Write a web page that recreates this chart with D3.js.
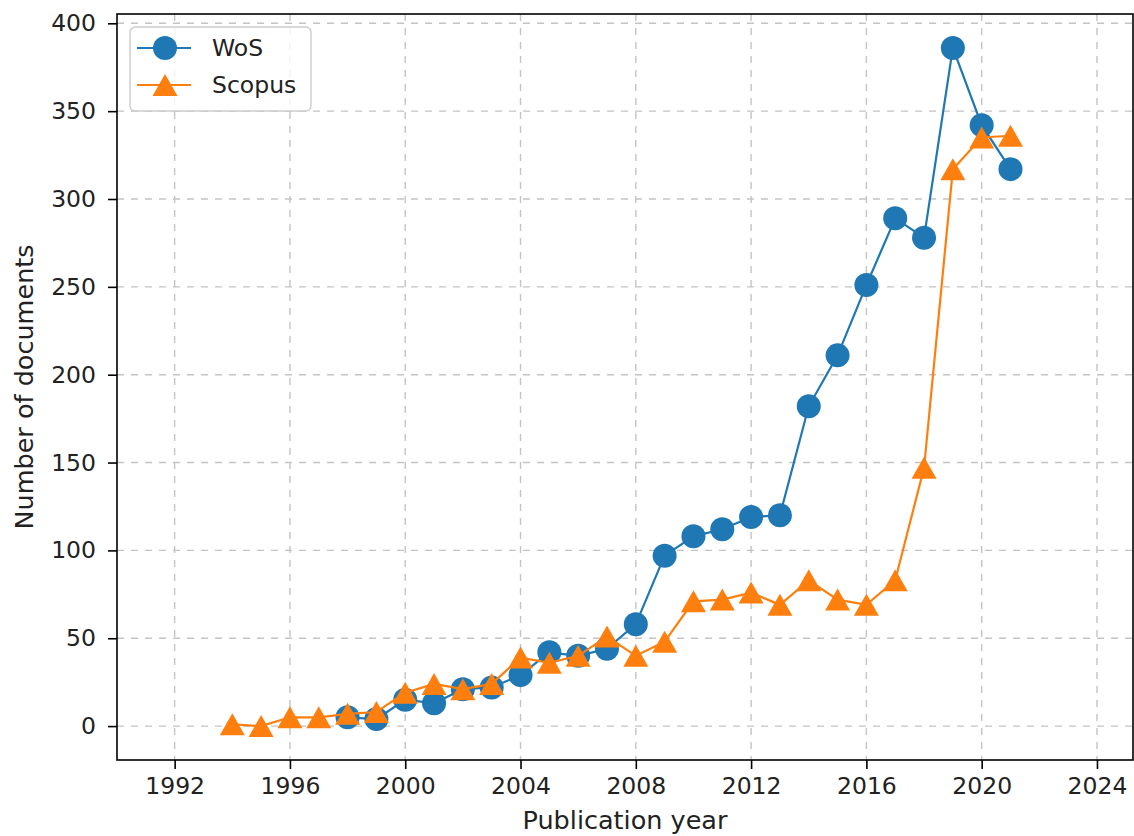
<!DOCTYPE html>
<html>
<head>
<meta charset="utf-8">
<script src="https://cdn.jsdelivr.net/npm/d3@7"></script>
<style>
  html, body { margin: 0; padding: 0; background: #fff; }
  svg { display: block; }
  text { font-family: "DejaVu Sans", sans-serif; fill: #222; }
</style>
</head>
<body>
<svg id="chart" width="1134" height="836"></svg>
<script>
const wosYears   = [1998,1999,2000,2001,2002,2003,2004,2005,2006,2007,2008,2009,2010,2011,2012,2013,2014,2015,2016,2017,2018,2019,2020,2021];
const wosValues  = [5,4,15,13,21,22,29,42,40,44,58,97,108,112,119,120,182,211,251,289,278,386,342,317];
const scopusYears  = [1994,1995,1996,1997,1998,1999,2000,2001,2002,2003,2004,2005,2006,2007,2008,2009,2010,2011,2012,2013,2014,2015,2016,2017,2018,2019,2020,2021];
const scopusValues = [1,0,5,5,7,8,19,24,21,24,39,36,40,51,40,48,71,72,76,69,83,72,69,83,147,317,335,336];
const xTicks = [1992,1996,2000,2004,2008,2012,2016,2020,2024];
const yTicks = [0,50,100,150,200,250,300,350,400];

const svg = d3.select("#chart");
const L = 117, R = 1133, T = 14, B = 760;
const x = d3.scaleLinear().domain([1990, 2025.25]).range([L, R]);
const y = d3.scaleLinear().domain([-19.3, 405.3]).range([B, T]);
const tickFont = 23.5, labelFont = 25.5;

// grid
const grid = svg.append("g");
grid.selectAll(".gx").data(xTicks).join("line")
  .attr("x1", d => x(d)).attr("x2", d => x(d)).attr("y1", T).attr("y2", B)
  .attr("stroke", "#c4c4c4").attr("stroke-width", 1.4).attr("stroke-dasharray", "7,7");
grid.selectAll(".gy").data(yTicks).join("line")
  .attr("y1", d => y(d)).attr("y2", d => y(d)).attr("x1", L).attr("x2", R)
  .attr("stroke", "#c4c4c4").attr("stroke-width", 1.4).attr("stroke-dasharray", "7,7");

// axes
const xAxis = d3.axisBottom(x).tickValues(xTicks).tickFormat(d3.format("d")).tickSize(9).tickPadding(8);
const yAxis = d3.axisLeft(y).tickValues(yTicks).tickSize(9).tickPadding(12);
const gx = svg.append("g").attr("transform", `translate(0,${B})`).call(xAxis);
const gy = svg.append("g").attr("transform", `translate(${L},0)`).call(yAxis);
[gx, gy].forEach(g => {
  g.select(".domain").remove();
  g.selectAll(".tick line").attr("stroke", "#000").attr("stroke-width", 1.6);
  g.selectAll(".tick text").attr("font-size", tickFont).attr("fill", "#222")
    .style("font-family", '"DejaVu Sans", sans-serif');
});

// frame
svg.append("rect").attr("x", L).attr("y", T).attr("width", R - L).attr("height", B - T)
  .attr("fill", "none").attr("stroke", "#000").attr("stroke-width", 1.6);

// series
const wos = wosYears.map((d, i) => [d, wosValues[i]]);
const sco = scopusYears.map((d, i) => [d, scopusValues[i]]);
const line = d3.line().x(d => x(d[0])).y(d => y(d[1]));
const blue = "#1f77b4", orange = "#ff7f0e";

function triPath(cx, cy, w, h) {
  return `M${cx},${cy - h}L${cx + w},${cy + h}L${cx - w},${cy + h}Z`;
}

svg.append("path").datum(wos).attr("d", line).attr("fill", "none").attr("stroke", blue).attr("stroke-width", 2.2);
svg.append("g").selectAll("circle").data(wos).join("circle")
  .attr("cx", d => x(d[0])).attr("cy", d => y(d[1])).attr("r", 12).attr("fill", blue);

svg.append("path").datum(sco).attr("d", line).attr("fill", "none").attr("stroke", orange).attr("stroke-width", 2.2);
svg.append("g").selectAll("path").data(sco).join("path")
  .attr("d", d => triPath(x(d[0]), y(d[1]), 12.5, 11)).attr("fill", orange);

// legend
const lg = svg.append("g");
lg.append("rect").attr("x", 130).attr("y", 27).attr("width", 181).attr("height", 84).attr("rx", 5)
  .attr("fill", "rgba(255,255,255,0.8)").attr("stroke", "#cccccc").attr("stroke-width", 1.4);
lg.append("line").attr("x1", 137).attr("x2", 191).attr("y1", 48).attr("y2", 48).attr("stroke", blue).attr("stroke-width", 2.2);
lg.append("circle").attr("cx", 165).attr("cy", 48).attr("r", 12).attr("fill", blue);
lg.append("text").attr("x", 212).attr("y", 48).attr("dy", "0.36em").attr("font-size", tickFont).text("WoS");
lg.append("line").attr("x1", 137).attr("x2", 191).attr("y1", 85).attr("y2", 85).attr("stroke", orange).attr("stroke-width", 2.2);
lg.append("path").attr("d", triPath(165, 85, 12.5, 11)).attr("fill", orange);
lg.append("text").attr("x", 212).attr("y", 85).attr("dy", "0.36em").attr("font-size", tickFont).text("Scopus");

// axis labels
svg.append("text").attr("x", (L + R) / 2).attr("y", 829).attr("text-anchor", "middle").attr("font-size", labelFont).text("Publication year");
svg.append("text").attr("transform", `translate(33,${(T + B) / 2}) rotate(-90)`).attr("text-anchor", "middle").attr("font-size", labelFont).text("Number of documents");
</script>
</body>
</html>
